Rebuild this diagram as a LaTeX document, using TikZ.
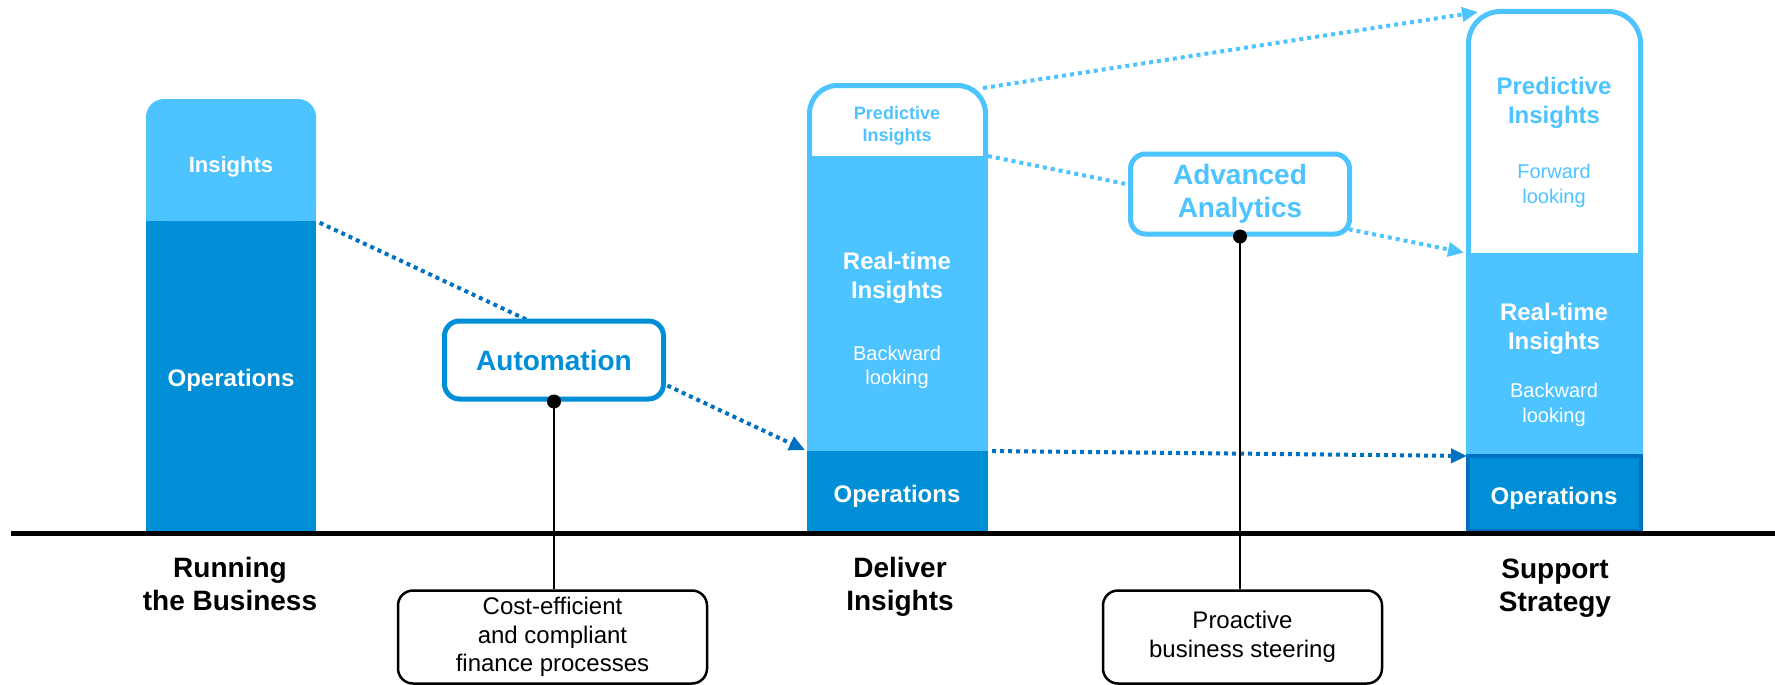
\documentclass[tikz,border=0pt]{standalone}
\usepackage{fontspec}
\setmainfont{Liberation Sans}
\usetikzlibrary{arrows.meta}
\definecolor{ltblue}{HTML}{4DC3FF}
\definecolor{opsblue}{HTML}{008FD6}
\definecolor{dkblue}{HTML}{0070C0}
\tikzset{
  seg/.style={rectangle, inner sep=0pt, outer sep=0pt, anchor=north west},
  dots/.style={line width=4pt, dash pattern=on 4pt off 4pt},
  callbox/.style={rectangle, rounded corners=15pt, line width=5pt, fill=white, inner sep=0pt,
    align=center, font=\bfseries\fontsize{28}{33}\selectfont},
  notebox/.style={rectangle, rounded corners=15pt, draw=black, line width=2.5pt, fill=white, inner sep=0pt,
    align=center, font=\fontsize{24}{28.5}\selectfont},
  hd/.style={align=center, text=white, font=\bfseries\fontsize{24}{29}\selectfont},
  sub/.style={align=center, text=white, font=\fontsize{20}{24.5}\selectfont},
  lbl/.style={align=center, font=\bfseries\fontsize{28}{33}\selectfont}
}
\begin{document}
\begin{tikzpicture}[x=1pt, y=-1pt, >={Triangle[length=16pt,width=14pt]}]
\useasboundingbox (0,0) rectangle (1775,685);

\node[seg, minimum width=170, minimum height=122] (ins1) at (146,99) {};
\node[seg, fill=opsblue, minimum width=170, minimum height=312] (ops1) at (146,221) {};
\node[seg, minimum width=181, minimum height=73] (pred2) at (807,83) {};
\node[seg, fill=ltblue, minimum width=181, minimum height=295] (rt2) at (807,156) {};
\node[seg, fill=opsblue, minimum width=181, minimum height=82] (ops2) at (807,451) {};
\node[seg, minimum width=177, minimum height=244] (pred3) at (1466,9) {};
\node[seg, fill=ltblue, minimum width=177, minimum height=201] (rt3) at (1466,253) {};
\node[seg, fill=opsblue, draw=dkblue, line width=4pt, minimum width=173, minimum height=75] (ops3) at (1468,456) {};

\fill[ltblue, rounded corners=18pt] (ins1.south west) rectangle (ins1.north east);
\fill[ltblue] (ins1.south west) rectangle ([yshift=20pt]ins1.south east);
\draw[ltblue, line width=5pt, rounded corners=28pt] ([xshift=2.5pt]pred2.south west) |- ([yshift=-2.5pt]pred2.north) -| ([xshift=-2.5pt]pred2.south east);
\draw[ltblue, line width=5pt, rounded corners=32pt] ([xshift=2.5pt]pred3.south west) |- ([yshift=-2.5pt]pred3.north) -| ([xshift=-2.5pt]pred3.south east);

\draw[dots, dkblue, ->, shorten <=4pt, shorten >=2pt] (ops1.north east) -- (ops2.north west);
\draw[dots, dkblue, ->, shorten <=4pt, shorten >=1pt] (ops2.north east) -- (ops3.north west);
\draw[dots, ltblue, ->, shorten >=2pt] (pred2.south east) -- (pred3.south west);
\draw[dots, ltblue, ->] ([shift={(-5pt,-5pt)}]pred2.north east) -- ([shift={(12pt,-3pt)}]pred3.north west);

\draw[line width=5pt] (11,533) -- (1775,533);

\node[callbox, draw=opsblue, text=opsblue, minimum width=219, minimum height=78] (auto) at (554,360) {Automation};
\node[callbox, draw=ltblue, text=ltblue, minimum width=219, minimum height=80] (aa) at (1240,194) {Advanced\\Analytics};
\node[notebox, minimum width=309, minimum height=93] (cost) at (552.5,637) {Cost-efficient\\and compliant\\finance processes};
\node[notebox, minimum width=279, minimum height=93] (pro) at (1242.5,637) {Proactive\\business steering};
\draw[line width=2.5pt] (auto.south) -- (auto.south |- cost.north);
\draw[line width=2.5pt] (aa.south) -- (aa.south |- pro.north);
\fill (auto.south) circle[radius=7pt];
\fill (aa.south) circle[radius=7pt];

\node[hd, font=\bfseries\fontsize{22}{26}\selectfont] (t1) at (231,167) {Insights};
\node[hd] (t2) at (231,380) {Operations};
\node[hd, text=ltblue, font=\bfseries\fontsize{18}{22}\selectfont] (t3) at (897,126) {Predictive\\Insights};
\node[hd] (t4) at (897,278) {Real-time\\Insights};
\node[sub] (t5) at (897,367.5) {Backward\\looking};
\node[hd] (t6) at (897,496) {Operations};
\node[hd, text=ltblue] (t7) at (1554,103) {Predictive\\Insights};
\node[sub, text=ltblue] (t8) at (1554,186) {Forward\\looking};
\node[hd] (t9) at (1554,329) {Real-time\\Insights};
\node[sub] (t10) at (1554,405) {Backward\\looking};
\node[hd] (t11) at (1554,498) {Operations};

\node[lbl] (l1) at (230,583.5) {Running\\the Business};
\node[lbl] (l2) at (900,586.5) {Deliver\\Insights};
\node[lbl] (l3) at (1555,588) {Support\\Strategy};
\end{tikzpicture}
\end{document}
